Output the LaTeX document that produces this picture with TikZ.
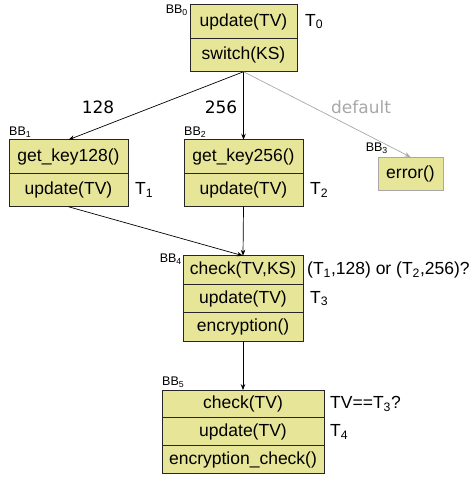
\documentclass[tikz,border=0pt]{standalone}
\usepackage{fontspec}
\setmainfont{Liberation Sans}
\newfontfamily\casefont{DejaVu Sans}
\usetikzlibrary{positioning,arrows.meta}
\definecolor{blockfill}{RGB}{230,229,152}
\definecolor{dimgray}{RGB}{168,168,168}
\tikzset{row/.style 2 args={draw=black!85,fill=blockfill,line width=0.8pt,outer sep=0pt,inner sep=0pt,
  minimum width=#1,minimum height=#2,font=\fontsize{17.5}{20}\selectfont}}
\tikzset{bbtag/.style={inner sep=0pt,font=\fontsize{12.5}{14}\selectfont}}
\tikzset{note/.style={inner sep=0pt,font=\fontsize{17.5}{20}\selectfont}}
\tikzset{casetag/.style={inner sep=0pt,font=\casefont\fontsize{17}{20}\selectfont}}

\begin{document}
\begin{tikzpicture}
[x=1pt,y=1pt, >={Stealth[length=6pt,width=4.5pt]}, flow/.style={->,line width=0.7pt}]
\useasboundingbox (0,0) rectangle (472,481);

% basic blocks
\node[row={107}{33.5}] (b0a) at (243.5,459.5) {update(TV)};
\node[row={107}{33.5},below=0pt of b0a] (b0b) {switch(KS)};

\node[row={119}{33.5}] (b1a) at (68.5,324.5) {get\_key128()};
\node[row={119}{33.5},below=0pt of b1a] (b1b) {update(TV)};

\node[row={119}{33.5}] (b2a) at (243.5,324.5) {get\_key256()};
\node[row={119}{33.5},below=0pt of b2a] (b2b) {update(TV)};

\node[row={65}{33},draw=dimgray] (b3) at (410.5,307.5) {error()};

\node[row={120}{28.5}] (b4a) at (243,211) {check(TV,KS)};
\node[row={120}{28.5},below=0pt of b4a] (b4b) {update(TV)};
\node[row={120}{28.5},below=0pt of b4b] (b4c) {encryption()};

\node[row={162}{27.8}] (b5a) at (243,77) {check(TV)};
\node[row={162}{27.8},below=0pt of b5a] (b5b) {update(TV)};
\node[row={162}{27.8},below=0pt of b5b] (b5c) {encryption\_check()};

% block names
\node[bbtag,anchor=north east] (l0) at ([xshift=-2pt]b0a.north west) {BB\textsubscript{0}};
\node[bbtag,anchor=south west] (l1) at ([yshift=2pt]b1a.north west) {BB\textsubscript{1}};
\node[bbtag,anchor=south west] (l2) at ([yshift=2pt]b2a.north west) {BB\textsubscript{2}};
\node[bbtag,anchor=south east] (l3) at ([xshift=10pt,yshift=3pt]b3.north west) {BB\textsubscript{3}};
\node[bbtag,anchor=north east] (l4) at ([xshift=-1pt,yshift=2pt]b4a.north west) {BB\textsubscript{4}};
\node[bbtag,anchor=south west] (l5) at ([yshift=2pt]b5a.north west) {BB\textsubscript{5}};

% versions and checks
\node[note,right=8pt of b0a] (t0) {T\textsubscript{0}};
\node[note,right=7pt of b1b] (t1) {T\textsubscript{1}};
\node[note,right=7pt of b2b] (t2) {T\textsubscript{2}};
\node[note,right=4pt of b4a] (c4) {(T\textsubscript{1},128) or (T\textsubscript{2},256)?};
\node[note,right=7pt of b4b] (t3) {T\textsubscript{3}};
\node[note,right=6pt of b5a] (c5) {TV==T\textsubscript{3}?};
\node[note,right=6pt of b5b] (t4) {T\textsubscript{4}};

% switch cases
\node[casetag] (k128) at (98,374) {128};
\node[casetag] (k256) at (221,374) {256};
\node[casetag,text=dimgray] (kdef) at (361,374) {default};

\draw[flow] (b0b.south) -- (b1a.north);
\draw[flow] (b0b.south) -- (b2a.north);
\draw[flow,draw=dimgray] (b0b.south) -- (b3.north);
\draw[flow] (b1b.south) -- (b4a.north);
\draw[flow] (b2b.south) -- (b4a.north);
\draw[flow] (b4c.south) -- (b5a.north);
\end{tikzpicture}
\end{document}
